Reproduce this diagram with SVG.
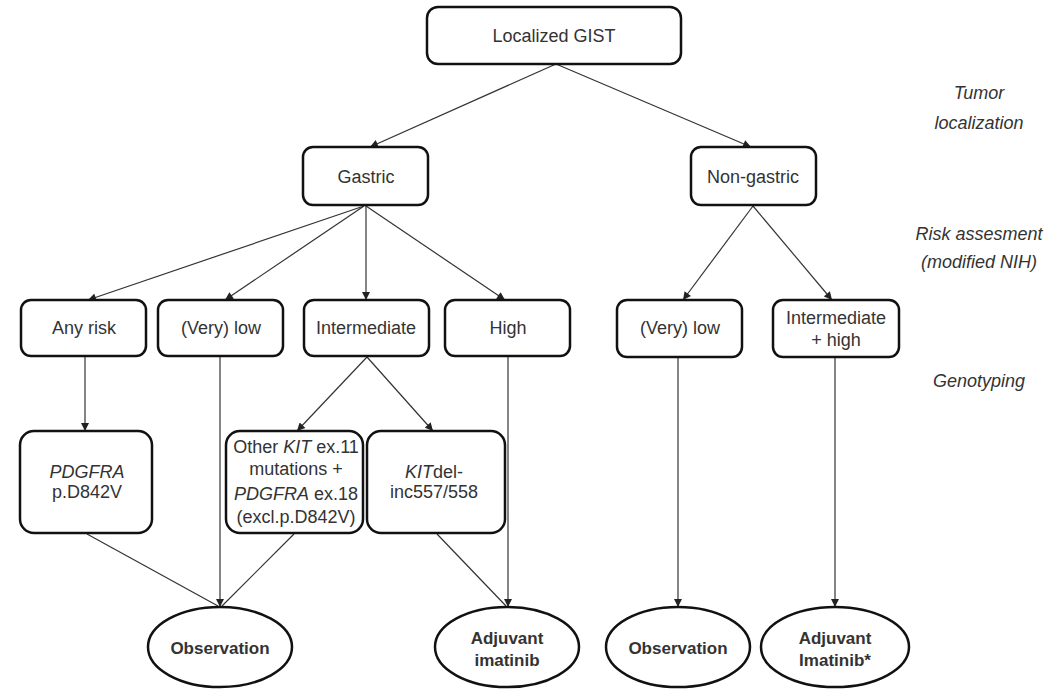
<svg xmlns="http://www.w3.org/2000/svg" width="1053" height="689" viewBox="0 0 1053 689">
<style>
.box{fill:#fff;stroke:#111;stroke-width:2.5}
.t{font-family:"Liberation Sans",Arial,sans-serif;font-size:18px;fill:#333;text-anchor:middle}
.b{font-weight:bold;font-size:17px}
.lab{font-style:italic}
.c line{stroke:#333;stroke-width:1.2}
</style>
<defs>
<marker id="ah" viewBox="0 0 10 10" refX="10" refY="5" markerWidth="9" markerHeight="8" markerUnits="userSpaceOnUse" orient="auto">
<path d="M0,0 L10,5 L0,10 z" fill="#222"/>
</marker>
</defs>
<rect width="1053" height="689" fill="#fff"/>

<g class="c">
<line x1="556" y1="64" x2="370" y2="147" marker-end="url(#ah)"/>
<line x1="556" y1="64" x2="751" y2="147" marker-end="url(#ah)"/>
<line x1="364" y1="206" x2="88" y2="300" marker-end="url(#ah)"/>
<line x1="364" y1="206" x2="225" y2="300" marker-end="url(#ah)"/>
<line x1="366" y1="206" x2="366" y2="300" marker-end="url(#ah)"/>
<line x1="366" y1="206" x2="505" y2="300" marker-end="url(#ah)"/>
<line x1="753" y1="206" x2="683" y2="300" marker-end="url(#ah)"/>
<line x1="753" y1="206" x2="832" y2="300" marker-end="url(#ah)"/>
<line x1="85" y1="357" x2="85" y2="431" marker-end="url(#ah)"/>
<line x1="367" y1="357" x2="297" y2="431" marker-end="url(#ah)"/>
<line x1="367" y1="357" x2="433" y2="431" marker-end="url(#ah)"/>
<line x1="87" y1="534" x2="218" y2="606"/>
<line x1="220" y1="357" x2="220" y2="607" marker-end="url(#ah)"/>
<line x1="294" y1="534" x2="222" y2="606"/>
<line x1="437" y1="534" x2="506" y2="606"/>
<line x1="508" y1="357" x2="508" y2="607" marker-end="url(#ah)"/>
<line x1="678" y1="357" x2="678" y2="607" marker-end="url(#ah)"/>
<line x1="835" y1="357" x2="835" y2="607" marker-end="url(#ah)"/>
</g>

<g id="localized-gist"><rect class="box" x="427" y="7" width="254" height="57" rx="11"/><text class="t" x="554" y="42">Localized GIST</text></g>
<g id="gastric"><rect class="box" x="303" y="147" width="125" height="58" rx="10"/><text class="t" x="366" y="183">Gastric</text></g>
<g id="non-gastric"><rect class="box" x="691" y="147" width="125" height="58" rx="10"/><text class="t" x="753" y="183">Non-gastric</text></g>

<g id="any-risk"><rect class="box" x="21" y="300" width="125" height="56" rx="10"/><text class="t" x="84" y="334">Any risk</text></g>
<g id="very-low-g"><rect class="box" x="158" y="300" width="125" height="56" rx="10"/><text class="t" x="221" y="334">(Very) low</text></g>
<g id="intermediate"><rect class="box" x="304" y="300" width="125" height="56" rx="10"/><text class="t" x="366" y="334">Intermediate</text></g>
<g id="high"><rect class="box" x="445" y="300" width="125" height="56" rx="10"/><text class="t" x="508" y="334">High</text></g>
<g id="very-low-ng"><rect class="box" x="617" y="300" width="125" height="57" rx="10"/><text class="t" x="680" y="334">(Very) low</text></g>
<g id="int-high"><rect class="box" x="773" y="300" width="126" height="57" rx="10"/><text class="t" x="836" y="324">Intermediate</text><text class="t" x="836" y="346">+ high</text></g>

<g id="pdgfra-d842v"><rect class="box" x="20" y="431" width="132" height="102" rx="14"/><text class="t" x="87" y="478"><tspan font-style="italic">PDGFRA</tspan></text><text class="t" x="87" y="498">p.D842V</text></g>
<g id="other-kit"><rect class="box" x="226" y="431" width="137" height="102" rx="14"/><text class="t" x="296" y="453"><tspan>Other </tspan><tspan font-style="italic">KIT</tspan><tspan> ex.11</tspan></text><text class="t" x="296" y="475">mutations +</text><text class="t" x="296" y="500"><tspan font-style="italic">PDGFRA</tspan><tspan> ex.18</tspan></text><text class="t" x="296" y="523">(excl.p.D842V)</text></g>
<g id="kitdel"><rect class="box" x="367" y="431" width="138" height="102" rx="14"/><text class="t" x="434" y="478"><tspan font-style="italic">KIT</tspan><tspan>del-</tspan></text><text class="t" x="434" y="498">inc557/558</text></g>

<g id="observation-1"><ellipse class="box" cx="220" cy="647" rx="72" ry="40"/><text class="t b" x="220" y="654">Observation</text></g>
<g id="adjuvant-1"><ellipse class="box" cx="507" cy="647" rx="72" ry="40"/><text class="t b" x="507" y="644">Adjuvant</text><text class="t b" x="507" y="666">imatinib</text></g>
<g id="observation-2"><ellipse class="box" cx="678" cy="647" rx="72" ry="40"/><text class="t b" x="678" y="654">Observation</text></g>
<g id="adjuvant-2"><ellipse class="box" cx="835" cy="647" rx="74" ry="40"/><text class="t b" x="835" y="644">Adjuvant</text><text class="t b" x="835" y="666">Imatinib*</text></g>

<g id="labels">
<text class="t lab" x="979" y="99">Tumor</text>
<text class="t lab" x="979" y="129">localization</text>
<text class="t lab" x="979" y="240">Risk assesment</text>
<text class="t lab" x="979" y="268">(modified NIH)</text>
<text class="t lab" x="979" y="387">Genotyping</text>
</g>
</svg>
